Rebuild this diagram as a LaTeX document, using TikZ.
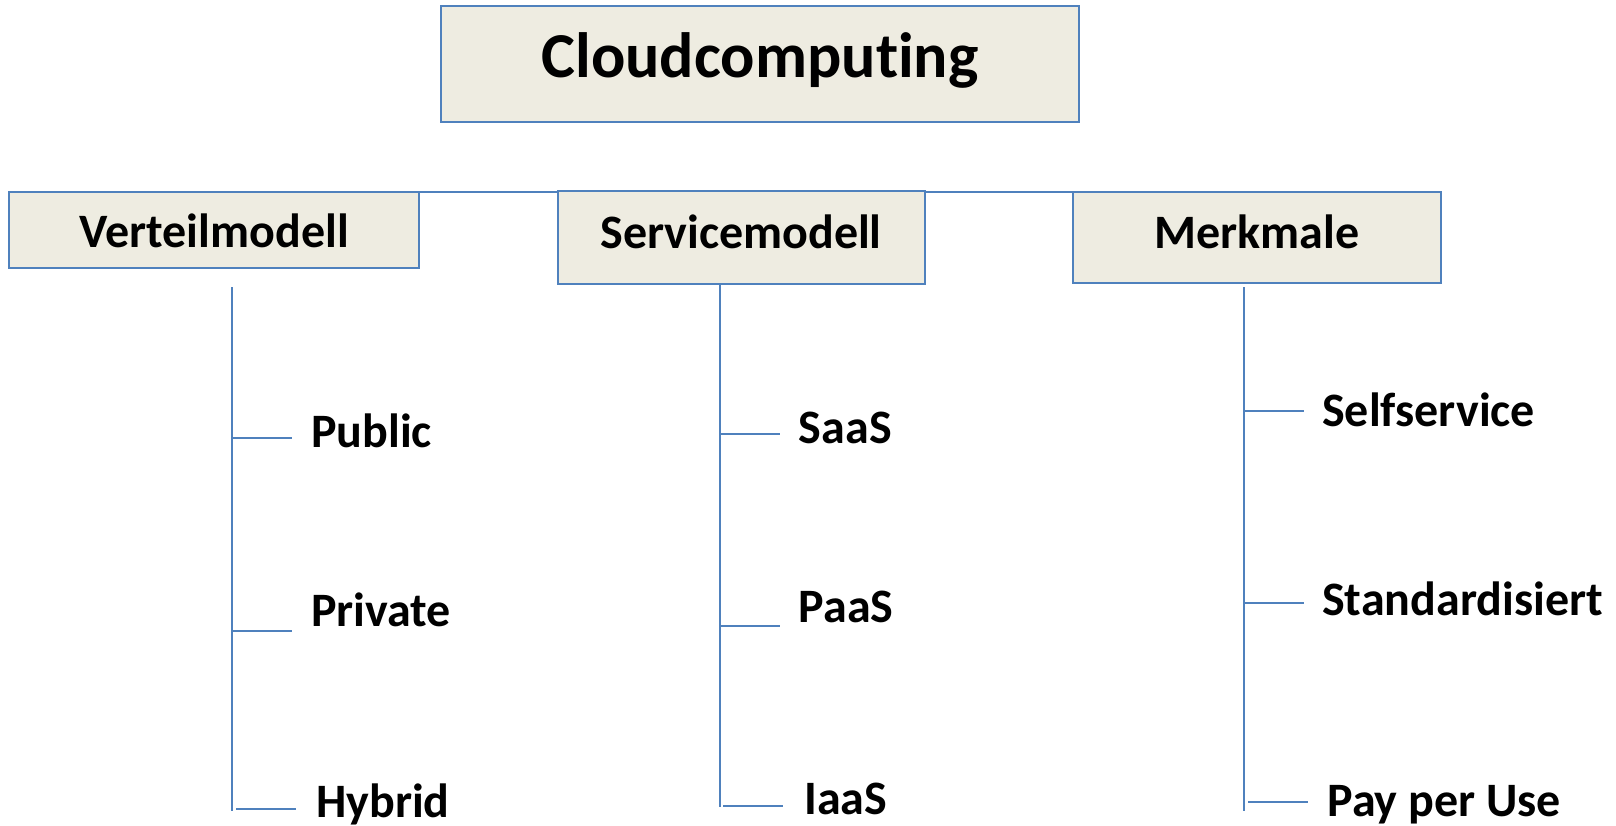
\documentclass[tikz,border=0pt]{standalone}
\usepackage{fontspec}
\setmainfont{Carlito}[Ligatures=NoCommon]
\usetikzlibrary{positioning}

\definecolor{boxblue}{HTML}{4F81BD}
\definecolor{boxfill}{HTML}{EEECE1}

\tikzset{
  box/.style={draw=boxblue,fill=boxfill,line width=2pt,inner sep=0pt,
    font=\fontsize{48}{58}\selectfont\bfseries},
  leaf/.style={anchor=base west,inner sep=0pt,
    font=\fontsize{48}{58}\selectfont\bfseries},
  branch/.style={draw=boxblue,line width=2pt}
}

\begin{document}
\begin{tikzpicture}[x=1pt,y=-1pt]
\useasboundingbox (0,0) rectangle (1616,826);

% connector along the top of the boxes
\coordinate (vt) at (232,287.3);
\coordinate (top) at (1167,191.7);
\draw[branch] (vt |- top) -- (top);

% nodes
\node (cloud) [box,minimum width=638pt,minimum height=116pt,
  text height=42pt,text depth=14pt,font=\fontsize{64}{77}\selectfont\bfseries]
  at (760,64) {Cloudcomputing};
\node (vert) [box,minimum width=410pt,minimum height=76.6pt,
  text height=37pt,text depth=1pt] at (214.3,230) {Verteilmodell};
\node (serv) [box,minimum width=367pt,minimum height=92pt,
  text height=37pt,text depth=14pt] at (741.1,237.5) {Servicemodell};
\node (merk) [box,minimum width=367.4pt,minimum height=91.6pt,
  text height=37pt,text depth=14pt] at (1257,237.5) {Merkmale};

\node (public) [leaf] at (311,447.5) {Public};
\node (private) [leaf] at (311,626) {Private};
\node (hybrid) [leaf] at (316,817.5) {Hybrid};
\node (saas) [leaf] at (798.7,443.5) {SaaS};
\node (paas) [leaf] at (798.7,622.5) {PaaS};
\node (iaas) [leaf] at (804,814) {IaaS};
\node (self) [leaf] at (1322,426) {Selfservice};
\node (std) [leaf] at (1322,615) {Standardisiert};
\node (pay) [leaf] at (1327.3,816) {Pay per Use};

% trunks
\coordinate (vb) at (232,810.5);
\coordinate (sb) at (719.5,806.7);
\coordinate (mt) at (1244,287.3);
\coordinate (mb) at (1244,810.7);
\draw[branch] (vt) -- (vb);
\draw[branch] (serv.south -| sb) -- (sb);
\draw[branch] (mt) -- (mb);

% branch ends
\coordinate (pu) at (292,438.3);
\coordinate (pr) at (292,630.7);
\coordinate (hy) at (296,809);
\coordinate (sa) at (779.5,434.3);
\coordinate (pa) at (779.5,625.6);
\coordinate (ia) at (783,805.7);
\coordinate (se) at (1304,410.7);
\coordinate (st) at (1304,603);
\coordinate (py) at (1308,802);

% branches
\draw[branch] (vt |- pu) -- (pu);
\draw[branch] (vt |- pr) -- (pr);
\draw[branch] ([xshift=4pt]vt |- hy) -- (hy);
\draw[branch] (sb |- sa) -- (sa);
\draw[branch] (sb |- pa) -- (pa);
\draw[branch] ([xshift=3.5pt]sb |- ia) -- (ia);
\draw[branch] (mt |- se) -- (se);
\draw[branch] (mt |- st) -- (st);
\draw[branch] ([xshift=4pt]mt |- py) -- (py);
\end{tikzpicture}
\end{document}
